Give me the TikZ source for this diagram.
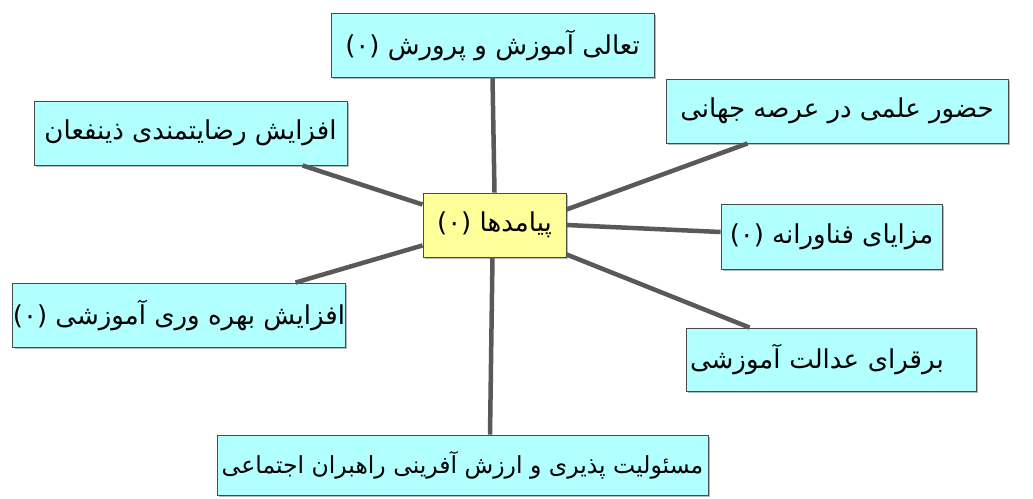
\documentclass[tikz,border=0pt]{standalone}
\usepackage{fontspec}
\usetikzlibrary{shadows}
\TeXXeTstate=1
\newfontfamily\arabicfont[Script=Arabic]{DejaVu Sans}
\definecolor{boxcyan}{HTML}{B2FFFF}
\definecolor{boxyellow}{HTML}{FFFF99}
\definecolor{linegray}{HTML}{595959}
\definecolor{boxborder}{HTML}{4A4A4A}
\newcommand{\fa}[1]{\arabicfont\beginR #1\endR}
\begin{document}
\begin{tikzpicture}[x=1pt,y=1pt,
  topic/.style={rectangle, draw=boxborder, line width=0.9pt, fill=boxcyan,
    inner sep=0pt, font=\fontsize{26}{30}\selectfont,
    drop shadow={shadow xshift=2pt, shadow yshift=-2pt, fill=gray!70, opacity=0.8}},
  hub/.style={topic, fill=boxyellow},
  link/.style={draw=linegray, line width=4.5pt}]
\useasboundingbox (0,0) rectangle (1033,498);
\node[topic, minimum width=323, minimum height=64] (top) at (492.5,453) {\fa{تعالی آموزش و پرورش (۰)}};
\node[hub, minimum width=143, minimum height=64] (c) at (494.5,273) {\fa{پیامدها (۰)}};
\node[topic, minimum width=313, minimum height=64] (lt) at (190.5,365) {\fa{افزایش رضایتمندی ذینفعان}};
\node[topic, minimum width=342, minimum height=64] (rt) at (837,387) {\raisebox{5pt}{\fa{حضور علمی در عرصه جهانی}}};
\node[topic, minimum width=221, minimum height=65] (rm) at (831.5,261.5) {\fa{مزایای فناورانه (۰)}};
\node[topic, minimum width=290, minimum height=63, text width=282, align=left] (rb) at (831,138.5) {\fa{برقرای عدالت آموزشی}};
\node[topic, minimum width=332, minimum height=64] (lb) at (179,183) {\fa{افزایش بهره وری آموزشی (۰)}};
\node[topic, minimum width=491, minimum height=60, font=\fontsize{23.5}{28}\selectfont] (bt) at (462.5,33) {\fa{مسئولیت پذیری و ارزش آفرینی راهبران اجتماعی}};
\path[link] (top.south) -- (c.north);
\path[link] ([xshift=-45pt]lt.south east) -- ([yshift=-12pt]c.north west);
\path[link] ([xshift=82pt]rt.south west) -- ([yshift=-17pt]c.north east);
\path[link] (c.east) -- ([yshift=4.5pt]rm.west);
\path[link] ([yshift=3pt]c.south east) -- ([xshift=64pt]rb.north west);
\path[link] ([yshift=12pt]c.south west) -- ([xshift=-50pt]lb.north east);
\path[link] ([xshift=-2pt]c.south) -- ([xshift=27.5pt]bt.north);
\end{tikzpicture}
\end{document}
